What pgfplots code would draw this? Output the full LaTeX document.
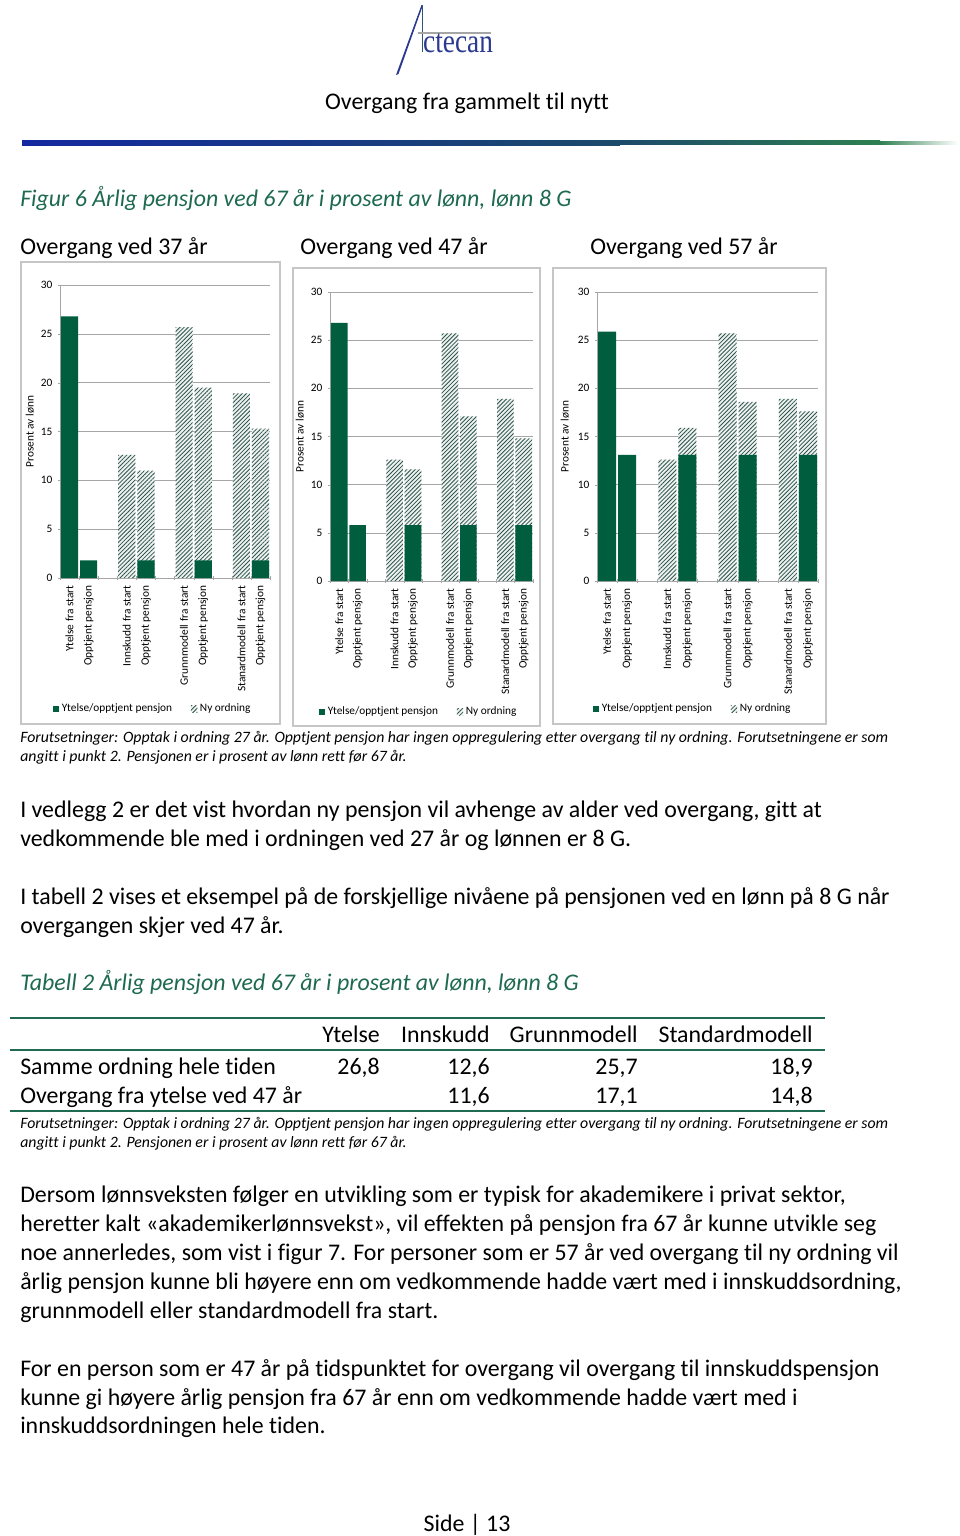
\documentclass[border=0pt]{standalone}
\usepackage{pgfplots}
\pgfplotsset{compat=1.18}
\usetikzlibrary{patterns.meta}
\usepackage{fontspec}
\setmainfont{Carlito}[Ligatures=NoCommon]
\newfontfamily\logofont{Liberation Serif}
\definecolor{bargreen}{HTML}{005E3E}
\definecolor{hatchc}{HTML}{2A544A}
\definecolor{hatchbg}{HTML}{EEF1F0}
\definecolor{titlegreen}{HTML}{1E6A50}
\definecolor{gridgray}{HTML}{A6A6A6}
\definecolor{rulegreen}{HTML}{1F6B4F}
\definecolor{logoblue}{HTML}{2B3990}
\definecolor{ruleblue}{HTML}{1428A0}
\definecolor{ruleteal}{HTML}{1C4A6A}
\definecolor{rulegrn}{HTML}{2E8050}
\newcommand\tickf{\fontsize{8.5}{10}\selectfont}
\newcommand\bodyf{\fontsize{17.9}{21}\selectfont}
\newcommand\capf{\fontsize{11.85}{14}\selectfont\itshape}
\pgfplotsset{
  panel/.style={
    scale only axis,
    anchor=south west,
    xmin=-0.5, xmax=10.5, ymin=0, ymax=30,
    ytick={0,5,...,30},
    xtick={0,1,3,4,6,7,9,10},
    xticklabels={Ytelse fra start, Opptjent pensjon, Innskudd fra start, Opptjent pensjon, Grunnmodell fra start, Opptjent pensjon, Stanardmodell fra start, Opptjent pensjon},
    minor xtick={-0.5,0.5,...,10.5},
    major x tick style={draw=none},
    minor tick length=3pt,
    major tick length=3pt,
    tick align=outside,
    axis x line=bottom, axis y line=left,
    axis line style={-, draw=gridgray},
    tick style={gridgray},
    ymajorgrids, major grid style={gridgray, line width=0.5pt},
    /pgf/number format/assume math mode=true,
    yticklabel style={font=\tickf, inner sep=4pt},
    xticklabel style={font=\tickf, rotate=90, anchor=east, inner sep=4pt},
    ylabel={Prosent av lønn},
    ylabel style={font=\tickf},
    legend columns=2,
    reverse legend,
    legend style={draw=none, fill=none, font=\tickf, anchor=center,
      /tikz/every even column/.append style={column sep=12pt}},
    legend cell align=left,
  },
  hatchbar/.style={ybar, bar width=0.9, bar shift=0pt, fill=hatchbg, draw=none,
    postaction={pattern={Lines[angle=45,distance=2.2pt,line width=0.6pt]}, pattern color=hatchc},
    legend image code/.code={\path[##1] (0pt,-2.4pt) rectangle (4.8pt,2.4pt);}},
  greenbar/.style={ybar, bar width=0.9, bar shift=0pt, fill=bargreen, draw=none,
    legend image code/.code={\path[##1] (0pt,-2.4pt) rectangle (4.8pt,2.4pt);}},
}
\begin{document}
\begin{tikzpicture}
\begin{scope}[x=0.75pt,y=0.75pt]
\fill[white] (0,0) rectangle (960,-1536);
\useasboundingbox (0,0) rectangle (960,-1536);
% panel frames
\draw[gray!45, line width=0.8pt] (21,-262) rectangle (280,-724);
\draw[gray!45, line width=0.8pt] (293,-268) rectangle (540,-726);
\draw[gray!45, line width=0.8pt] (553,-268) rectangle (826,-724);
\end{scope}

% ---------- Panel 1: Overgang ved 37 år
\begin{axis}[panel, at={(45pt,-433.5pt)}, width=157.5pt, height=219.75pt,
  ylabel style={at={(axis description cs:-0.143,0.5)}, anchor=center},
  legend style={at={(axis description cs:0.443,-0.447)}}]
\addplot[hatchbar] coordinates {(3,12.6) (4,11.0) (6,25.7) (7,19.5) (9,18.9) (10,15.3)};
\addlegendentry{Ny ordning}
\addplot[greenbar] coordinates {(0,26.8) (1,1.8) (4,1.8) (7,1.8) (10,1.8)};
\addlegendentry{Ytelse/opptjent pensjon}
\end{axis}

% ---------- Panel 2: Overgang ved 47 år
\begin{axis}[panel, at={(247.5pt,-435.75pt)}, width=152.25pt, height=216.75pt,
  ylabel style={at={(axis description cs:-0.148,0.5)}, anchor=center},
  legend style={at={(axis description cs:0.438,-0.453)}}]
\addplot[hatchbar] coordinates {(3,12.6) (4,11.6) (6,25.7) (7,17.1) (9,18.9) (10,14.8)};
\addlegendentry{Ny ordning}
\addplot[greenbar] coordinates {(0,26.8) (1,5.8) (4,5.8) (7,5.8) (10,5.8)};
\addlegendentry{Ytelse/opptjent pensjon}
\end{axis}

% ---------- Panel 3: Overgang ved 57 år
\begin{axis}[panel, at={(447.75pt,-435.75pt)}, width=165.75pt, height=216.75pt,
  ylabel style={at={(axis description cs:-0.145,0.5)}, anchor=center},
  legend style={at={(axis description cs:0.434,-0.443)}}]
\addplot[hatchbar] coordinates {(3,12.6) (4,15.9) (6,25.7) (7,18.6) (9,18.9) (10,17.6)};
\addlegendentry{Ny ordning}
\addplot[greenbar] coordinates {(0,25.9) (1,13.1) (4,13.1) (7,13.1) (10,13.1)};
\addlegendentry{Ytelse/opptjent pensjon}
\end{axis}

\begin{scope}[x=0.75pt,y=0.75pt, every node/.style={inner sep=0pt}]
% logo
\fill[logoblue] (396,-75) -- (421.5,-5) -- (423,-5) -- (398.5,-74) -- cycle;
\draw[logoblue!60!rulegrn, line width=0.6pt] (422,-5) -- (422,-52);
\draw[gray!70, line width=0.8pt] (418,-33) -- (491,-33);
\node[anchor=base west, text=logoblue, xscale=0.82, font=\logofont\fontsize{25}{25}\selectfont] at (423,-52) {ctecan};
\node[anchor=base, font=\bodyf] at (467,-109) {Overgang fra gammelt til nytt};
% gradient rule
\shade[left color=ruleblue, right color=ruleteal] (22,-140) rectangle (620,-145);
\shade[left color=ruleteal, right color=rulegrn] (619.5,-140.5) rectangle (880,-144.5);
\shade[left color=rulegrn, right color=white] (879.5,-141) rectangle (958,-144);
% figure title
\node[anchor=base west, text=titlegreen, font=\bodyf\itshape] at (20,-206) {Figur 6 Årlig pensjon ved 67 år i prosent av lønn, lønn 8 G};
\node[anchor=base west, font=\bodyf] at (20,-254) {Overgang ved 37 år};
\node[anchor=base west, font=\bodyf] at (300,-254) {Overgang ved 47 år};
\node[anchor=base west, font=\bodyf] at (590,-254) {Overgang ved 57 år};
% caption 1
\node[anchor=base west, font=\capf] at (20,-742) {Forutsetninger: Opptak i ordning 27 år. Opptjent pensjon har ingen oppregulering etter overgang til ny ordning. Forutsetningene er som};
\node[anchor=base west, font=\capf] at (20,-761) {angitt i punkt 2. Pensjonen er i prosent av lønn rett før 67 år.};
% paragraphs
\node[anchor=base west, font=\bodyf] at (20,-817) {I vedlegg 2 er det vist hvordan ny pensjon vil avhenge av alder ved overgang, gitt at};
\node[anchor=base west, font=\bodyf] at (20,-846) {vedkommende ble med i ordningen ved 27 år og lønnen er 8 G.};
\node[anchor=base west, font=\bodyf] at (20,-904) {I tabell 2 vises et eksempel på de forskjellige nivåene på pensjonen ved en lønn på 8 G når};
\node[anchor=base west, font=\bodyf] at (20,-933) {overgangen skjer ved 47 år.};
\node[anchor=base west, text=titlegreen, font=\bodyf\itshape] at (20,-990) {Tabell 2 Årlig pensjon ved 67 år i prosent av lønn, lønn 8 G};
% table
\draw[rulegreen, line width=2.2pt] (10,-1018) -- (825,-1018);
\draw[rulegreen, line width=2.2pt] (10,-1050) -- (825,-1050);
\draw[rulegreen, line width=2.2pt] (10,-1111) -- (825,-1111);
\node[anchor=base east, font=\bodyf] at (380,-1042) {Ytelse};
\node[anchor=base east, font=\bodyf] at (490,-1042) {Innskudd};
\node[anchor=base east, font=\bodyf] at (638,-1042) {Grunnmodell};
\node[anchor=base east, font=\bodyf] at (813,-1042) {Standardmodell};
\node[anchor=base west, font=\bodyf] at (20,-1074) {Samme ordning hele tiden};
\node[anchor=base east, font=\bodyf] at (380,-1074) {26,8};
\node[anchor=base east, font=\bodyf] at (490,-1074) {12,6};
\node[anchor=base east, font=\bodyf] at (638,-1074) {25,7};
\node[anchor=base east, font=\bodyf] at (813,-1074) {18,9};
\node[anchor=base west, font=\bodyf] at (20,-1103) {Overgang fra ytelse ved 47 år};
\node[anchor=base east, font=\bodyf] at (490,-1103) {11,6};
\node[anchor=base east, font=\bodyf] at (638,-1103) {17,1};
\node[anchor=base east, font=\bodyf] at (813,-1103) {14,8};
\node[anchor=base west, font=\capf] at (20,-1128) {Forutsetninger: Opptak i ordning 27 år. Opptjent pensjon har ingen oppregulering etter overgang til ny ordning. Forutsetningene er som};
\node[anchor=base west, font=\capf] at (20,-1147) {angitt i punkt 2. Pensjonen er i prosent av lønn rett før 67 år.};
\node[anchor=base west, font=\bodyf] at (20,-1202) {Dersom lønnsveksten følger en utvikling som er typisk for akademikere i privat sektor,};
\node[anchor=base west, font=\bodyf] at (20,-1231) {heretter kalt «akademikerlønnsvekst», vil effekten på pensjon fra 67 år kunne utvikle seg};
\node[anchor=base west, font=\bodyf] at (20,-1260) {noe annerledes, som vist i figur 7. For personer som er 57 år ved overgang til ny ordning vil};
\node[anchor=base west, font=\bodyf] at (20,-1289) {årlig pensjon kunne bli høyere enn om vedkommende hadde vært med i innskuddsordning,};
\node[anchor=base west, font=\bodyf] at (20,-1318) {grunnmodell eller standardmodell fra start.};
\node[anchor=base west, font=\bodyf] at (20,-1376) {For en person som er 47 år på tidspunktet for overgang vil overgang til innskuddspensjon};
\node[anchor=base west, font=\bodyf] at (20,-1405) {kunne gi høyere årlig pensjon fra 67 år enn om vedkommende hadde vært med i};
\node[anchor=base west, font=\bodyf] at (20,-1433) {innskuddsordningen hele tiden.};
\node[anchor=base, font=\bodyf] at (467,-1531) {Side | 13};
\end{scope}
\end{tikzpicture}
\end{document}
